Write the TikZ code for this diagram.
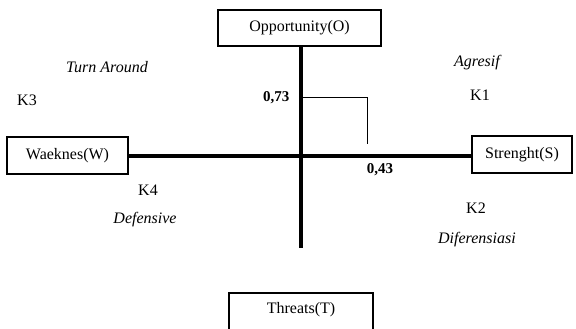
\documentclass[tikz,border=0pt]{standalone}
\usepackage{fontspec}
\setmainfont{Liberation Serif}
\begin{document}
\begin{tikzpicture}[x=1pt,y=-1pt,
  box/.style={draw,line width=1.4pt,inner sep=0pt,font=\fontsize{16}{18}\selectfont},
  axis/.style={line width=4pt},
  lbl/.style={font=\fontsize{16}{18}\selectfont},
  ital/.style={font=\fontsize{16}{18}\selectfont\itshape},
  num/.style={font=\fontsize{15}{17}\selectfont\bfseries}]
\useasboundingbox (0,0) rectangle (576,329);
\node[box,minimum width=163,minimum height=36] (O) at (299.5,28) {Opportunity(O)};
\node[box,minimum width=121,minimum height=37] (W) at (67.5,155.5) {Waeknes(W)};
\node[box,minimum width=100,minimum height=37] (S) at (522,154.5) {Strenght(S)};
\node[box,minimum width=144,minimum height=44] (T) at (301,315) {\raisebox{14pt}{Threats(T)}};
\coordinate (c) at (301,156);
\coordinate (vb) at (301,248);
\coordinate (p1) at (301,97);
\coordinate (p2) at (367,97);
\coordinate (p3) at (367,144);
\draw[axis] (O.south -| c) -- (vb);
\draw[axis] (W.east |- c) -- (S.west |- c);
\draw[line width=0.8pt] (p1) -- (p2) -- (p3);
\node[num,anchor=east] (n1) at (293,98) {0,73};
\node[num] (n2) at (380,170) {0,43};
\node[ital] (ta) at (107,67) {Turn Around};
\node[lbl] (k3) at (27,100) {K3};
\node[ital] (ag) at (477,63) {Agresif};
\node[lbl] (k1) at (480,95) {K1};
\node[lbl] (k4) at (148,190) {K4};
\node[ital] (df) at (145,220) {Defensive};
\node[lbl] (k2) at (476,208) {K2};
\node[ital] (di) at (477,240) {Diferensiasi};
\end{tikzpicture}
\end{document}
